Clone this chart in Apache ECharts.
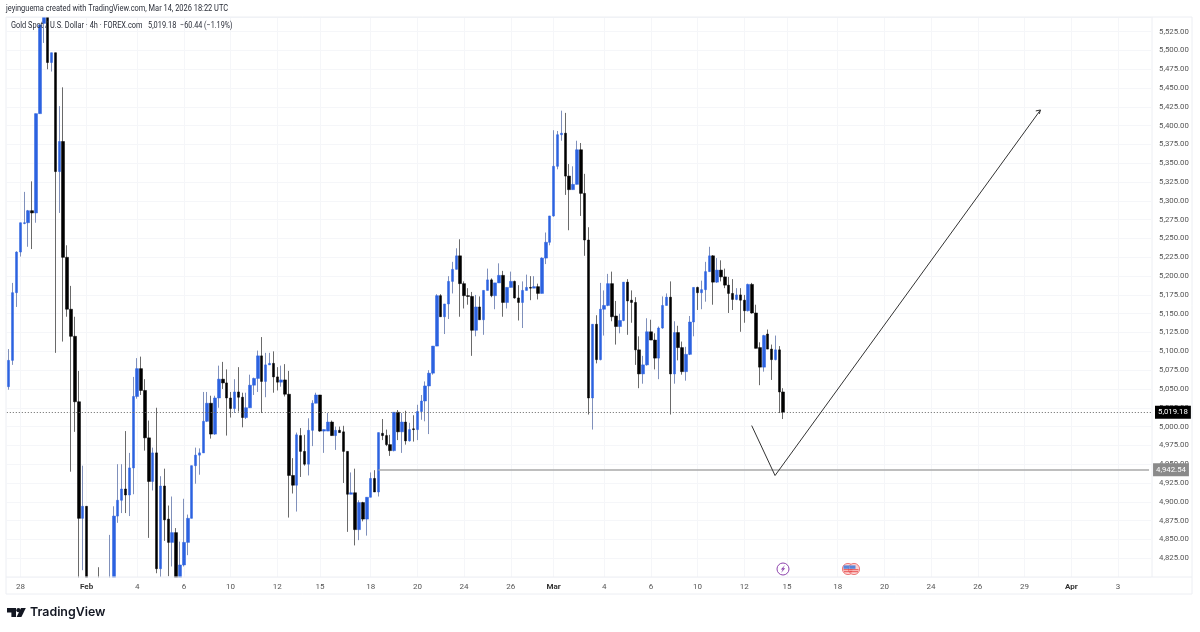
<!DOCTYPE html>
<html>
<head>
<meta charset="utf-8">
<style>
  html, body { margin: 0; padding: 0; background: #fff; }
  #chart { width: 1200px; height: 632px; }
</style>
<script src="https://cdn.jsdelivr.net/npm/echarts@6/dist/echarts.min.js"></script>
</head>
<body>
<div id="chart"></div>
<script>
// 4h gold candles
const opens = [
  5053,5088,5178,5232,5270,5271,5287,5284,5416,5536,
  5560,5484,5497,5339,5379,5225,5156,5120,5033,4878,
  4894,4770,4760,4775,4765,4760,4770,4785,4881,4902,
  4917,4909,4945,5040,5077,5048,4985,4927,4965,4811,
  4921,4877,4846,4859,4785,4816,4846,4878,4948,4962,
  4965,5007,5031,4990,5038,5063,5058,5038,5024,5046,
  5039,5012,5025,5055,5064,5094,5060,5082,5084,5066,
  5059,5062,5043,4935,4922,4988,4967,4950,4995,5031,
  5042,4994,4994,5006,4988,4995,4993,4967,4910,4912,
  4863,4899,4877,4906,4931,4913,4991,4988,4976,4968,
  5019,4993,5006,4981,4997,4996,5020,5034,5054,5071,
  5107,5174,5146,5163,5193,5209,5227,5190,5174,5173,
  5128,5159,5142,5181,5195,5174,5191,5201,5165,5185,
  5193,5171,5165,5181,5185,5184,5186,5177,5224,5245,
  5280,5346,5388,5390,5333,5315,5322,5368,5310,5248,
  5038,5136,5089,5156,5161,5190,5147,5133,5141,5192,
  5168,5165,5102,5070,5082,5126,5115,5091,5131,5161,
  5172,5070,5125,5105,5073,5096,5139,5185,5178,5182,
  5206,5227,5192,5208,5199,5188,5177,5169,5175,5168,
  5154,5189,5151,5105,5079,5123,5103,5089,5102,5046
]
const closes = [
  5088,5178,5232,5271,5271,5287,5284,5416,5534,5560,
  5484,5497,5339,5379,5225,5156,5120,5033,4878,4894,
  4770,4760,4775,4765,4760,4770,4785,4881,4902,4917,
  4909,4945,5040,5077,5048,4985,4927,4965,4811,4921,
  4876,4846,4859,4785,4816,4846,4878,4948,4962,4965,
  5007,5031,4990,5038,5063,5058,5038,5024,5046,5039,
  5012,5025,5055,5064,5094,5060,5082,5084,5066,5059,
  5062,5043,4935,4922,4989,4967,4950,4995,5031,5042,
  4994,4996,5006,4988,4995,4992,4967,4910,4912,4863,
  4899,4877,4906,4931,4913,4992,4988,4976,4968,5019,
  4993,5006,4981,4996,4996,5020,5034,5054,5071,5107,
  5174,5146,5163,5193,5209,5227,5190,5174,5173,5128,
  5159,5142,5181,5195,5174,5191,5201,5165,5185,5193,
  5171,5165,5181,5185,5184,5186,5177,5224,5245,5280,
  5346,5388,5390,5333,5315,5322,5368,5310,5248,5038,
  5136,5089,5156,5161,5190,5146,5133,5141,5192,5167,
  5165,5102,5070,5082,5126,5115,5091,5131,5161,5172,
  5070,5125,5105,5073,5096,5139,5185,5178,5182,5206,
  5227,5192,5208,5199,5188,5177,5169,5175,5168,5154,
  5189,5151,5104,5079,5121,5103,5089,5102,5046,5019.18
]
const lows = [
  5049,5082,5159,5226,5269,5239,5236,5271,5416,5510,
  5475,5472,5098,5284,5113,5146,4940,4993,4780,4809,
  4750,4745,4745,4750,4740,4745,4760,4775,4872,4885,
  4885,4881,4910,5037,5042,4968,4852,4915,4805,4800,
  4848,4801,4814,4770,4770,4814,4829,4878,4924,4936,
  4965,5006,4984,4989,5025,5050,4988,5012,5018,5020,
  4999,5010,5025,5042,5046,5018,5039,5082,5045,5048,
  5053,5040,4879,4911,4887,4933,4948,4935,4974,5031,
  4993,4965,4994,4988,4969,4992,4925,4860,4910,4842,
  4849,4874,4855,4906,4913,4907,4982,4974,4961,4967,
  4982,4965,4976,4980,4980,4982,5009,5007,4990,5069,
  5107,5146,5123,5143,5177,5209,5146,5157,5162,5094,
  5120,5142,5122,5181,5172,5156,5191,5146,5157,5185,
  5170,5141,5131,5181,5168,5184,5169,5177,5216,5241,
  5279,5342,5380,5308,5261,5315,5322,5280,5227,5016,
  4996,5084,5088,5121,5160,5140,5109,5124,5140,5122,
  5138,5082,5051,5057,5081,5115,5076,5063,5130,5161,
  5016,5057,5088,5069,5061,5095,5120,5155,5156,5166,
  5206,5162,5191,5193,5184,5151,5155,5168,5126,5138,
  5153,5150,5104,5055,5073,5103,5062,5088,5018,5010
]
const highs = [
  5103,5191,5233,5271,5312,5288,5326,5416,5534,5575,
  5580,5497,5497,5426,5451,5241,5187,5146,5074,4948,
  4894,4790,4795,4813,4790,4795,4856,4894,4950,4950,
  4994,4965,5066,5091,5093,5063,5008,4972,5025,4934,
  4944,4895,4907,4865,4847,4904,4883,4948,4972,4971,
  5046,5046,5041,5041,5081,5086,5076,5046,5063,5079,
  5045,5045,5069,5065,5101,5119,5098,5098,5100,5079,
  5081,5083,5074,4958,4992,4998,4989,5011,5035,5045,
  5042,4996,5018,5008,5000,5000,5001,4967,4939,4944,
  4902,4900,4906,4939,4942,4992,5010,4996,4989,5019,
  5022,5018,5021,5005,5015,5029,5042,5060,5075,5107,
  5176,5176,5163,5200,5219,5237,5249,5193,5184,5179,
  5175,5173,5181,5210,5197,5191,5217,5207,5185,5206,
  5194,5188,5193,5202,5200,5200,5190,5225,5258,5280,
  5394,5393,5420,5417,5349,5346,5380,5377,5336,5265,
  5136,5148,5191,5181,5203,5206,5167,5150,5192,5196,
  5181,5172,5120,5094,5144,5142,5124,5133,5173,5177,
  5193,5140,5134,5113,5106,5147,5185,5186,5194,5219,
  5239,5228,5224,5221,5210,5199,5196,5184,5184,5175,
  5190,5191,5162,5112,5122,5129,5109,5121,5107,5051
]

// time axis: bar slot that carries each label, future slots included
const tickBars = [3, 20, 33, 45, 57, 69, 80, 93, 105, 117, 129, 140, 153, 165, 177, 189, 200, 213, 225, 237, 249, 261, 273, 285]
const tickLabels = ['28', 'Feb', '4', '6', '10', '12', '15', '18', '20', '24', '26', 'Mar', '4', '6', '10', '12', '15', '18', '20', '24', '26', '29', 'Apr', '3']
const boldLabels = ['Feb', 'Mar', 'Apr']
const slotCount = 294

const lastPrice = 5019.18
const levelPrice = 4942.54
const levelStartBar = 95

// hand drawn path on the chart, x in bar slots
const pathSlots = [191.4, 197.4, 265.6]
const pathPrices = [5001.3, 4934.9, 5420.9]
const headSlots = [264.4, 265.6, 265.3]
const headPrices = [5419.6, 5420.9, 5415.6]

const categories = Array.from({ length: slotCount }, (_, i) => String(i))
const candles = opens.map((o, i) => [o, closes[i], lows[i], highs[i]])
const bodies = opens.map((o, i) => [o, closes[i], Math.min(o, closes[i]), Math.max(o, closes[i])])

const FONT = 'Roboto'
const UP = '#2c62e0'
const DOWN = '#000000'
const GRID_LINE = '#f5f6f9'
const FRAME = '#eceef3'
const TEXT = '#2a2e39'

const chart = echarts.init(document.getElementById('chart'))

function flag(cx, cy) {
  return [
    { type: 'circle', z: 50, shape: { cx, cy, r: 5.6 }, style: { fill: '#fbd3d3', stroke: '#ee7c7c', lineWidth: 1 } },
    { type: 'rect', z: 51, shape: { x: cx - 4.5, y: cy + 0.2, width: 9, height: 1 }, style: { fill: '#e84f4f' } },
    { type: 'rect', z: 51, shape: { x: cx - 4, y: cy + 2.2, width: 8, height: 1 }, style: { fill: '#e84f4f' } },
    { type: 'rect', z: 51, shape: { x: cx - 4.5, y: cy - 3.6, width: 6, height: 3.4 }, style: { fill: '#5a86d8' } }
  ]
}

function headerText(text, x, y, scaleX) {
  return { type: 'text', z: 60, silent: true, x, y, scaleX, style: { text, fontFamily: FONT, fontSize: 8.6, fill: TEXT } }
}

function priceBadge(price, fill) {
  return {
    position: 'end',
    distance: 4,
    formatter: price.toLocaleString('en-US', { minimumFractionDigits: 2 }),
    backgroundColor: fill,
    color: '#fff',
    fontFamily: FONT,
    fontSize: 7.8,
    padding: [3, 3, 2, 3]
  }
}

chart.setOption({
  animation: false,
  backgroundColor: '#fff',
  grid: { left: 6.8, right: 49, top: 17, bottom: 55, show: false },
  xAxis: [
    {
      type: 'category',
      position: 'bottom',
      data: categories,
      boundaryGap: true,
      axisLine: { show: false },
      axisTick: { show: false },
      axisLabel: { show: false },
      splitLine: {
        show: true,
        alignWithLabel: true,
        interval: i => tickBars.includes(i),
        lineStyle: { color: GRID_LINE, width: 1 }
      }
    },
    { type: 'value', position: 'bottom', min: 0, max: slotCount, show: false, splitLine: { show: false } },
    // labels only, kept above the strip that hides candles under the pane
    {
      type: 'category',
      position: 'bottom',
      z: 30,
      data: categories,
      boundaryGap: true,
      axisLine: { show: false },
      axisTick: { show: false },
      splitLine: { show: false },
      axisLabel: {
        interval: i => tickBars.includes(i),
        margin: 6,
        fontFamily: FONT,
        fontSize: 8,
        color: '#555',
        formatter: (v, i) => {
          const label = tickLabels[tickBars.indexOf(i)]
          return boldLabels.includes(label) ? '{b|' + label + '}' : label
        },
        rich: { b: { fontFamily: FONT, fontSize: 8, fontWeight: 'bold', color: '#333' } }
      }
    }
  ],
  yAxis: {
    type: 'value',
    position: 'right',
    min: 4800,
    max: 5544.5,
    interval: 25,
    axisLine: { show: false },
    axisTick: { show: false },
    splitLine: { show: true, lineStyle: { color: GRID_LINE, width: 1 } },
    axisLabel: {
      margin: 8,
      showMinLabel: false,
      showMaxLabel: false,
      fontFamily: FONT,
      fontSize: 7.8,
      color: '#555',
      formatter: v => v.toLocaleString('en-US', { minimumFractionDigits: 2, maximumFractionDigits: 2 })
    }
  },
  series: [
    {
      name: 'wicks',
      type: 'candlestick',
      data: candles,
      barWidth: 1,
      z: 3,
      itemStyle: { color: '#8090bb', color0: '#6a6a6a', borderColor: '#8090bb', borderColor0: '#6a6a6a', borderWidth: 1 },
      markLine: {
        silent: true,
        symbol: 'none',
        animation: false,
        data: [
          {
            yAxis: lastPrice,
            lineStyle: { color: '#666', type: [1, 2], width: 1 },
            label: priceBadge(lastPrice, '#000')
          }
        ]
      }
    },
    {
      name: 'bodies',
      type: 'candlestick',
      data: bodies,
      barWidth: 3,
      z: 4,
      itemStyle: { color: UP, color0: DOWN, borderColor: UP, borderColor0: DOWN, borderWidth: 0.5 },
      markLine: {
        silent: true,
        symbol: 'none',
        animation: false,
        lineStyle: { color: '#a8a8a8', type: 'solid', width: 1.5, opacity: 1 },
        label: priceBadge(levelPrice, '#8a8a8a'),
        data: [
          [
            { xAxis: levelStartBar, yAxis: levelPrice },
            { xAxis: slotCount - 1, yAxis: levelPrice }
          ]
        ]
      }
    },
    {
      name: 'path',
      type: 'line',
      xAxisIndex: 1,
      data: pathSlots.map((s, i) => [s, pathPrices[i]]),
      symbol: 'none',
      z: 6,
      lineStyle: { color: '#333', width: 1 }
    },
    {
      name: 'head',
      type: 'line',
      xAxisIndex: 1,
      data: headSlots.map((s, i) => [s, headPrices[i]]),
      symbol: 'none',
      z: 6,
      lineStyle: { color: '#333', width: 1 }
    }
  ],
  graphic: [
    // candles run past the pane in the screenshot, these strips cut them off
    { type: 'rect', z: 20, silent: true, shape: { x: 6, y: 0, width: 1146, height: 17 }, style: { fill: '#fff' } },
    { type: 'rect', z: 20, silent: true, shape: { x: 6, y: 577.5, width: 1146, height: 54.5 }, style: { fill: '#fff' } },
    // chart frame
    { type: 'rect', z: 25, silent: true, shape: { x: 6, y: 17, width: 1186, height: 577 }, style: { fill: 'none', stroke: FRAME, lineWidth: 1 } },
    { type: 'line', z: 25, silent: true, shape: { x1: 1152, y1: 17, x2: 1152, y2: 577 }, style: { stroke: FRAME, lineWidth: 1 } },
    { type: 'line', z: 25, silent: true, shape: { x1: 6, y1: 577, x2: 1192, y2: 577 }, style: { stroke: FRAME, lineWidth: 1 } },
    // header
    headerText('jeyinguema created with TradingView.com, Mar 14, 2026 18:22 UTC', 6, 4.5, 0.865),
    headerText('Gold Spot / U.S. Dollar · 4h · FOREX.com', 11, 21.5, 0.86),
    headerText('5,019.18', 148, 21.5, 0.86),
    headerText('−60.44 (−1.19%)', 180, 21.5, 0.84),
    // event markers
    { type: 'circle', z: 50, shape: { cx: 783, cy: 569, r: 6 }, style: { fill: '#fff', stroke: '#8e44ad', lineWidth: 1 } },
    { type: 'polygon', z: 51, shape: { points: [[785, 565], [780.8, 569.6], [782.8, 569.6], [781, 573], [785.2, 568.2], [783.2, 568.2]] }, style: { fill: '#8e44ad' } },
    ...flag(848, 569),
    ...flag(854, 569),
    // TradingView mark
    { type: 'polygon', z: 60, shape: { points: [[7, 608], [16, 608], [16, 617], [11.4, 617], [11.4, 612.4], [7, 612.4]] }, style: { fill: '#131722' } },
    { type: 'circle', z: 60, shape: { cx: 18.4, cy: 610.2, r: 2.1 }, style: { fill: '#131722' } },
    { type: 'polygon', z: 60, shape: { points: [[21, 608], [25.8, 608], [21.4, 617], [16.6, 617]] }, style: { fill: '#131722' } },
    { type: 'text', z: 60, silent: true, x: 30, y: 606.5, style: { text: 'TradingView', fontFamily: 'Inter', fontWeight: 600, fontSize: 12.4, fill: '#131722' } }
  ]
})
</script>
</body>
</html>
